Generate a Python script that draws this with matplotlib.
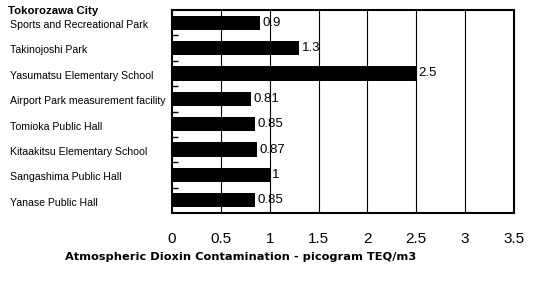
import matplotlib
matplotlib.use("Agg")
import matplotlib.pyplot as plt
import numpy as np

title = 'Tokorozawa City'
xlabel = 'Atmospheric Dioxin Contamination - picogram TEQ/m3'

sites = ['Sports and Recreational Park', 'Takinojoshi Park',
         'Yasumatsu Elementary School', 'Airport Park measurement facility',
         'Tomioka Public Hall', 'Kitaakitsu Elementary School',
         'Sangashima Public Hall', 'Yanase Public Hall']
values = [0.9, 1.3, 2.5, 0.81, 0.85, 0.87, 1, 0.85]
value_labels = ['0.9', '1.3', '2.5', '0.81', '0.85', '0.87', '1', '0.85']
xticks = [0, 0.5, 1, 1.5, 2, 2.5, 3, 3.5]
xtick_labels = ['0', '0.5', '1', '1.5', '2', '2.5', '3', '3.5']

plt.rcParams['font.family'] = ['Liberation Sans', 'DejaVu Sans']

fig = plt.figure(figsize=(5.4, 2.93), dpi=100)
ax = fig.add_axes([172 / 540, 80 / 293, 342 / 540, 203 / 293])

pos = np.arange(len(sites))
ax.barh(pos, values, height=0.56, color='black', zorder=3)

for p, v, lab in zip(pos, values, value_labels):
    ax.text(v + 0.025, p, lab, va='center', ha='left', fontsize=9.5, zorder=4)

ax.set_xlim(0, 3.5)
ax.set_ylim(len(sites) - 0.5, -0.5)

# vertical grid
for x in xticks[1:-1]:
    ax.axvline(x, color='black', linewidth=0.8, zorder=1)

ax.set_xticks(xticks)
ax.set_xticklabels(xtick_labels, fontsize=11)
ax.tick_params(axis='x', length=0, pad=14)

# y ticks at category boundaries, labels via fig.text
ax.set_yticks(pos[:-1] + 0.5)
ax.set_yticklabels([])
ax.tick_params(axis='y', direction='in', length=4, width=1)

for s in ax.spines.values():
    s.set_linewidth(1.5)

for p, s in zip(pos, sites):
    y = ax.transData.transform((0, p))[1]
    fig.text(10 / 540, y / 293 - 0.008, s, fontsize=7.6, va='center', ha='left',
             transform=fig.transFigure)

fig.text(8 / 540, 1 - 11 / 293, title, fontsize=8.2, fontweight='bold',
         va='center', ha='left')
fig.text(241 / 540, 1 - 257 / 293, xlabel, fontsize=8.2, fontweight='bold',
         va='center', ha='center', family=['DejaVu Sans'])

fig.savefig('out.png', dpi=100)
